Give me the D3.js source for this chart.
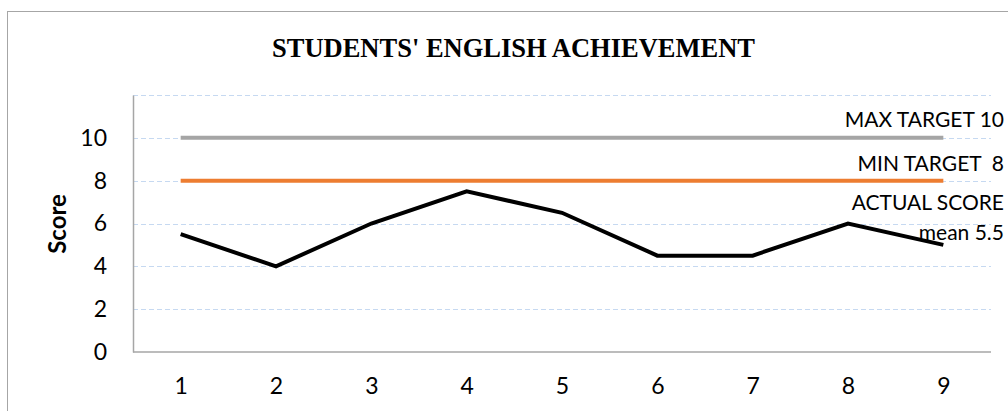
<!DOCTYPE html>
<html><head><meta charset="utf-8">
<script src="https://cdn.jsdelivr.net/npm/d3@7"></script>
<style>body{margin:0;background:#fff;} svg{display:block;}</style>
</head><body>
<svg id="c" width="1008" height="411"></svg>
<script>
const categories = ["1","2","3","4","5","6","7","8","9"];
const actualScore = [5.5, 4, 6, 7.5, 6.5, 4.5, 4.5, 6, 5];
const minTarget = [8, 8, 8, 8, 8, 8, 8, 8, 8];
const maxTarget = [10, 10, 10, 10, 10, 10, 10, 10, 10];
const yTicks = [0, 2, 4, 6, 8, 10];
const gridValues = [2, 4, 6, 8, 10, 12];
const title = "STUDENTS' ENGLISH ACHIEVEMENT";
const yTitle = "Score";
const seriesLabels = [
  {text: "MAX TARGET 10", y: 127},
  {text: "MIN TARGET  8", y: 171},
  {text: "ACTUAL SCORE", y: 210},
  {text: "mean 5.5", y: 240}
];

const svg = d3.select("#c");
const L = 133, R = 991, T = 95, B = 352;
const FONT = "Lato, Carlito, Calibri, sans-serif";
const x = d3.scalePoint().domain(categories).range([L, R]).padding(0.5);
const y = d3.scaleLinear().domain([0, 12]).range([B, T]);

// chart border
svg.append("rect").attr("x", 7.5).attr("y", 11.5).attr("width", 1100).attr("height", 500)
  .attr("fill", "none").attr("stroke", "#a6a6a6").attr("stroke-width", 1);

// title
svg.append("text").attr("x", 272).attr("y", 56.5)
  .attr("font-family", "Liberation Serif, Times New Roman, serif").attr("font-weight", "bold")
  .attr("font-size", 28).attr("textLength", 483).attr("lengthAdjust", "spacingAndGlyphs")
  .attr("fill", "#000").text(title);

// gridlines
svg.append("g").selectAll("line").data(gridValues).join("line")
  .attr("x1", L).attr("x2", R).attr("y1", d => Math.round(y(d)) + 0.5).attr("y2", d => Math.round(y(d)) + 0.5)
  .attr("stroke", "#c6d9f1").attr("stroke-width", 1).attr("stroke-dasharray", "5,3");

// y axis
const yAxis = svg.append("g").attr("transform", `translate(${L},0)`)
  .call(d3.axisLeft(y).tickValues(yTicks).tickSize(0).tickPadding(26).tickFormat(d3.format("d")));
yAxis.select(".domain").attr("stroke", "#a6a6a6").attr("stroke-width", 1.5);
yAxis.selectAll("text").attr("font-family", FONT).attr("font-size", 23).attr("fill", "#000");

// x axis
const xAxis = svg.append("g").attr("transform", `translate(0,${B})`)
  .call(d3.axisBottom(x).tickSize(0).tickPadding(26));
xAxis.select(".domain").attr("stroke", "#a6a6a6").attr("stroke-width", 1.5).attr("d", `M${L},0H${R}`);
xAxis.selectAll("text").attr("font-family", FONT).attr("font-size", 23).attr("fill", "#000");

// y title
svg.append("text").attr("transform", `translate(66,224) rotate(-90)`).attr("text-anchor", "middle")
  .attr("font-family", FONT).attr("font-weight", "bold").attr("font-size", 24)
  .attr("fill", "#000").text(yTitle);

// series lines
const line = d3.line().x((d, i) => x(categories[i])).y(d => y(d));
const series = [
  {data: maxTarget, color: "#a5a5a5"},
  {data: minTarget, color: "#ed7d31"},
  {data: actualScore, color: "#000000"}
];
svg.append("g").selectAll("path").data(series).join("path")
  .attr("d", d => line(d.data)).attr("fill", "none").attr("stroke", d => d.color)
  .attr("stroke-width", 4).attr("stroke-linejoin", "miter");

// labels
svg.append("g").selectAll("text").data(seriesLabels).join("text")
  .attr("x", 1004).attr("y", d => d.y).attr("text-anchor", "end")
  .attr("font-family", FONT).attr("font-size", 21).attr("fill", "#000")
  .attr("xml:space", "preserve").style("white-space", "pre")
  .text(d => d.text);
</script>
</body></html>
